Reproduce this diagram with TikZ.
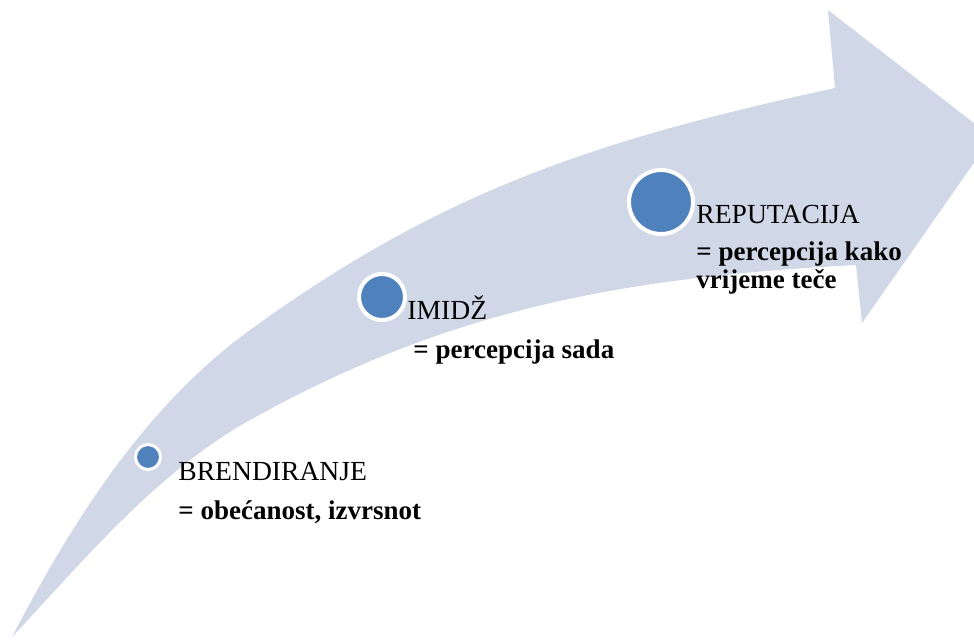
\documentclass[tikz,border=0pt]{standalone}
\usepackage{fontspec}
\setmainfont{Liberation Serif}

\definecolor{bandblue}{RGB}{208,216,232}
\definecolor{dotblue}{RGB}{79,129,189}

\tikzset{
    band/.style={fill=bandblue},
    dot/.style={circle, fill=dotblue, draw=white, inner sep=0pt},
    title/.style={anchor=base west, inner sep=0pt, font=\fontsize{13.8}{13.8}\selectfont},
    desc/.style={anchor=base west, inner sep=0pt, align=left, font=\fontsize{13.5}{13.6}\selectfont\bfseries},
}

\begin{document}
\begin{tikzpicture}[x=0.5pt, y=-0.5pt]
        \clip (0, 0) rectangle (974, 639);
        % strelica
        \fill[band] (12, 637) .. controls (72, 522) and (145, 406) .. (250, 330)
            .. controls (444, 189) and (601, 139) .. (835, 88)
            -- (828, 10) -- (992, 137) -- (862, 323) -- (856, 265)
            .. controls (626, 277) and (451, 308) .. (250, 420)
            .. controls (157, 472) and (85, 559) .. (12, 637) -- cycle;
        % krugovi
        \node[dot, line width=1.5pt, minimum size=12.5pt] (brend) at (148, 457){};
        \node[dot, line width=2pt, minimum size=23pt] (imidz) at (382, 297){};
        \node[dot, line width=2pt, minimum size=32pt] (rep) at (661, 202){};
        % tekst
        \node[title] (brendtxt) at (178, 480){BRENDIRANJE};
        \node[desc] (brenddesc) at (178, 519){= obećanost, izvrsnot};
        \node[title] (imidztxt) at (407, 319){IMIDŽ};
        \node[desc] (imidzdesc) at (413, 358){= percepcija sada};
        \node[title] (reptxt) at (696, 223){REPUTACIJA};
        \node[desc] (repdesc) at (696, 288){= percepcija kako\\vrijeme teče};
    \end{tikzpicture}
\end{document}
